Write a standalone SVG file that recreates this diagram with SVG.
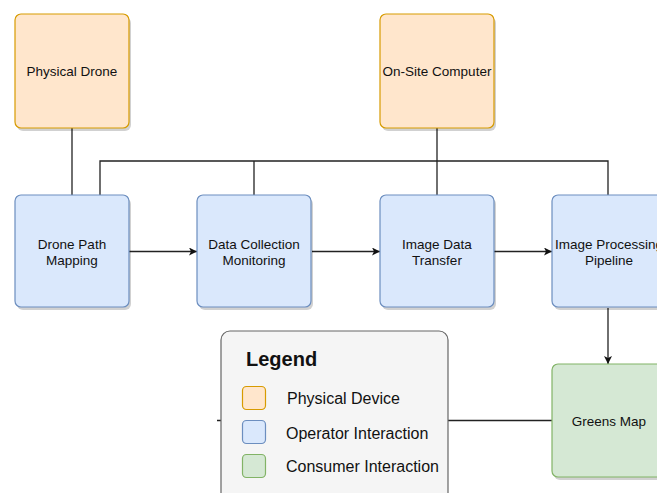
<svg xmlns="http://www.w3.org/2000/svg" width="657" height="493" viewBox="0 0 657 493">
<style>
.sh{fill:#000;opacity:0.18}
.or{fill:#ffe6cc;stroke:#d79b00;stroke-width:1.2}
.bl{fill:#dae8fc;stroke:#6c8ebf;stroke-width:1.2}
.gr{fill:#d5e8d4;stroke:#82b366;stroke-width:1.2}
.t{font-family:"Liberation Sans",Arial,sans-serif;font-size:13.5px;fill:#111;text-anchor:middle}
.lt{font-family:"Liberation Sans",Arial,sans-serif;font-size:16px;fill:#111}
.c{fill:none;stroke:#222;stroke-width:1.3}
</style>
<defs>
<marker id="ah" viewBox="0 0 10 10" refX="10" refY="5" markerWidth="8" markerHeight="8" markerUnits="userSpaceOnUse" orient="auto">
<path d="M0,0 L10,5 L0,10 L2.5,5 Z" fill="#111"/>
</marker>
</defs>
<rect width="657" height="493" fill="#fff"/>
<g id="connectors">
<path class="c" d="M72,128 V195"/>
<path class="c" d="M100,195 V161 H608 V195"/>
<path class="c" d="M254,195 V161"/>
<path class="c" d="M437,128 V195"/>
<path class="c" d="M129,251.5 H197" marker-end="url(#ah)"/>
<path class="c" d="M312,251.5 H380" marker-end="url(#ah)"/>
<path class="c" d="M494,251.5 H552" marker-end="url(#ah)"/>
<path class="c" d="M608,308 V364" marker-end="url(#ah)"/>
<path class="c" d="M552,420.5 H217"/>
</g>
<g id="physical-drone">
<rect class="sh" x="17" y="17" width="114" height="114" rx="6"/>
<rect class="or" x="15" y="14" width="114" height="114" rx="6"/>
<text class="t" x="72" y="76">Physical Drone</text>
</g>
<g id="on-site-computer">
<rect class="sh" x="382" y="17" width="114" height="114" rx="6"/>
<rect class="or" x="380" y="14" width="114" height="114" rx="6"/>
<text class="t" x="437" y="76">On-Site Computer</text>
</g>
<g id="drone-path-mapping">
<rect class="sh" x="17" y="198" width="114" height="112" rx="6"/>
<rect class="bl" x="15" y="195" width="114" height="112" rx="6"/>
<text class="t" x="72" y="249">Drone Path</text>
<text class="t" x="72" y="265">Mapping</text>
</g>
<g id="data-collection-monitoring">
<rect class="sh" x="199" y="198" width="114" height="112" rx="6"/>
<rect class="bl" x="197" y="195" width="114" height="112" rx="6"/>
<text class="t" x="254" y="249">Data Collection</text>
<text class="t" x="254" y="265">Monitoring</text>
</g>
<g id="image-data-transfer">
<rect class="sh" x="382" y="198" width="114" height="112" rx="6"/>
<rect class="bl" x="380" y="195" width="114" height="112" rx="6"/>
<text class="t" x="437" y="249">Image Data</text>
<text class="t" x="437" y="265">Transfer</text>
</g>
<g id="image-processing-pipeline">
<rect class="sh" x="554" y="198" width="114" height="112" rx="6"/>
<rect class="bl" x="552" y="195" width="114" height="112" rx="6"/>
<text class="t" x="609" y="249">Image Processing</text>
<text class="t" x="609" y="265">Pipeline</text>
</g>
<g id="greens-map">
<rect class="sh" x="554" y="367" width="114" height="113" rx="6"/>
<rect class="gr" x="552" y="364" width="114" height="113" rx="6"/>
<text class="t" x="609" y="426">Greens Map</text>
</g>
<g id="legend">
<rect x="221" y="331" width="227" height="180" rx="9" fill="#f5f5f5" stroke="#666" stroke-width="1.2"/>
<text x="246" y="366" font-family="Liberation Sans,Arial,sans-serif" font-size="20" font-weight="bold" fill="#111">Legend</text>
<rect class="or" x="242.5" y="386.5" width="23" height="23" rx="4"/>
<rect class="bl" x="242.5" y="420.5" width="23" height="23" rx="4"/>
<rect class="gr" x="242.5" y="454.5" width="23" height="23" rx="4"/>
<text class="lt" x="287" y="404">Physical Device</text>
<text class="lt" x="286" y="439">Operator Interaction</text>
<text class="lt" x="286" y="472">Consumer Interaction</text>
</g>
</svg>
